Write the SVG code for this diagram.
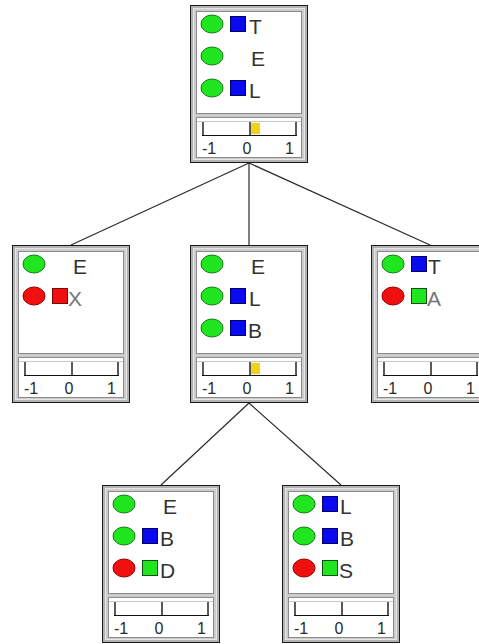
<svg xmlns="http://www.w3.org/2000/svg" xmlns:xlink="http://www.w3.org/1999/xlink" width="479" height="644" viewBox="0 0 479 644">
<style>
.bg{fill:#ffffff}
.edge{stroke:#2a2a2a;stroke-width:1.2;fill:none}
.gc{fill:#1fe61f;stroke:#157a15;stroke-width:1}
.rc{fill:#f01010;stroke:#9a0000;stroke-width:1}
.bs{fill:#0a0aee;stroke:#000066;stroke-width:1}
.gs{fill:#1fe61f;stroke:#0f4f0f;stroke-width:1}
.rs{fill:#f01010;stroke:#7a0000;stroke-width:1}
.t{font-family:"Liberation Sans",Arial,sans-serif;font-size:21px;fill:#333333}
.tg{font-family:"Liberation Sans",Arial,sans-serif;font-size:21px;fill:#777777}
.lbl{font-family:"Liberation Sans",Arial,sans-serif;font-size:16px;fill:#2a2a2a}
.yb{fill:#f5d21a}
.tick{stroke:#5a5a5a;stroke-width:2}
</style>
<defs>
<g id="frame">
<rect x="0.5" y="0.5" width="117" height="157" fill="#b2b2b2" stroke="#1a1a1a"/>
<rect x="3.5" y="3.5" width="111" height="151" fill="#cdcdcd" stroke="#e6e6e6"/>
<rect x="6.5" y="6.5" width="105" height="102" fill="#ffffff" stroke="#8a8a8a"/>
<rect x="6.5" y="112.5" width="105" height="40" fill="#ffffff" stroke="#8a8a8a"/>
<line x1="7" y1="116.5" x2="111" y2="116.5" stroke="#c8c8c8"/>
<line class="tick" x1="13" y1="117" x2="13" y2="130"/>
<line class="tick" x1="60" y1="117" x2="60" y2="130"/>
<line class="tick" x1="106" y1="117" x2="106" y2="130"/>
<line x1="12" y1="130.5" x2="107" y2="130.5" stroke="#111111"/>
</g>
</defs>
<rect class="bg" x="0" y="0" width="479" height="644"/>
<g id="connectors">
<line class="edge" x1="249" y1="163" x2="71" y2="245"/>
<line class="edge" x1="249" y1="163" x2="249" y2="245"/>
<line class="edge" x1="249" y1="163" x2="430" y2="245"/>
<line class="edge" x1="249" y1="403" x2="161" y2="485"/>
<line class="edge" x1="249" y1="403" x2="341" y2="485"/>
</g>
<g id="node-root" transform="translate(190,5)">
<use xlink:href="#frame"/>
<rect class="yb" x="61" y="118" width="9" height="11"/>
<ellipse class="gc" cx="22" cy="19" rx="11" ry="9"/><rect class="bs" x="40.5" y="11.5" width="15" height="15"/><text class="t" x="59" y="28.5">T</text>
<ellipse class="gc" cx="22" cy="51" rx="11" ry="9"/><text class="t" x="61" y="60.5">E</text>
<ellipse class="gc" cx="22" cy="83" rx="11" ry="9"/><rect class="bs" x="40.5" y="75.5" width="15" height="15"/><text class="t" x="59" y="92.5">L</text>
<text class="lbl" x="12" y="149">-1</text><text class="lbl" x="57" y="149" text-anchor="middle">0</text><text class="lbl" x="104" y="149" text-anchor="end">1</text>
</g>
<g id="node-left" transform="translate(12,245)">
<use xlink:href="#frame"/>
<ellipse class="gc" cx="22" cy="19" rx="11" ry="9"/><text class="t" x="61" y="28.5">E</text>
<ellipse class="rc" cx="22" cy="51" rx="11" ry="9"/><rect class="rs" x="40.5" y="43.5" width="15" height="15"/><text class="tg" x="56" y="60.5">X</text>
<text class="lbl" x="12" y="149">-1</text><text class="lbl" x="57" y="149" text-anchor="middle">0</text><text class="lbl" x="104" y="149" text-anchor="end">1</text>
</g>
<g id="node-center" transform="translate(190,245)">
<use xlink:href="#frame"/>
<rect class="yb" x="61" y="118" width="9" height="11"/>
<ellipse class="gc" cx="22" cy="19" rx="11" ry="9"/><text class="t" x="61" y="28.5">E</text>
<ellipse class="gc" cx="22" cy="51" rx="11" ry="9"/><rect class="bs" x="40.5" y="43.5" width="15" height="15"/><text class="t" x="59" y="60.5">L</text>
<ellipse class="gc" cx="22" cy="83" rx="11" ry="9"/><rect class="bs" x="40.5" y="75.5" width="15" height="15"/><text class="t" x="58" y="92.5">B</text>
<text class="lbl" x="12" y="149">-1</text><text class="lbl" x="57" y="149" text-anchor="middle">0</text><text class="lbl" x="104" y="149" text-anchor="end">1</text>
</g>
<g id="node-right" transform="translate(371,245)">
<use xlink:href="#frame"/>
<ellipse class="gc" cx="22" cy="19" rx="11" ry="9"/><rect class="bs" x="40.5" y="11.5" width="15" height="15"/><text class="t" x="57" y="28.5">T</text>
<ellipse class="rc" cx="22" cy="51" rx="11" ry="9"/><rect class="gs" x="40.5" y="43.5" width="15" height="15"/><text class="tg" x="56" y="60.5">A</text>
<text class="lbl" x="12" y="149">-1</text><text class="lbl" x="57" y="149" text-anchor="middle">0</text><text class="lbl" x="104" y="149" text-anchor="end">1</text>
</g>
<g id="node-bottom-left" transform="translate(102,485)">
<use xlink:href="#frame"/>
<ellipse class="gc" cx="22" cy="19" rx="11" ry="9"/><text class="t" x="61" y="28.5">E</text>
<ellipse class="gc" cx="22" cy="51" rx="11" ry="9"/><rect class="bs" x="40.5" y="43.5" width="15" height="15"/><text class="t" x="58" y="60.5">B</text>
<ellipse class="rc" cx="22" cy="83" rx="11" ry="9"/><rect class="gs" x="40.5" y="75.5" width="15" height="15"/><text class="t" x="58" y="92.5">D</text>
<text class="lbl" x="12" y="149">-1</text><text class="lbl" x="57" y="149" text-anchor="middle">0</text><text class="lbl" x="104" y="149" text-anchor="end">1</text>
</g>
<g id="node-bottom-right" transform="translate(282,485)">
<use xlink:href="#frame"/>
<ellipse class="gc" cx="22" cy="19" rx="11" ry="9"/><rect class="bs" x="40.5" y="11.5" width="15" height="15"/><text class="t" x="58" y="28.5">L</text>
<ellipse class="gc" cx="22" cy="51" rx="11" ry="9"/><rect class="bs" x="40.5" y="43.5" width="15" height="15"/><text class="t" x="58" y="60.5">B</text>
<ellipse class="rc" cx="22" cy="83" rx="11" ry="9"/><rect class="gs" x="40.5" y="75.5" width="15" height="15"/><text class="t" x="57" y="92.5">S</text>
<text class="lbl" x="12" y="149">-1</text><text class="lbl" x="57" y="149" text-anchor="middle">0</text><text class="lbl" x="104" y="149" text-anchor="end">1</text>
</g>
</svg>
